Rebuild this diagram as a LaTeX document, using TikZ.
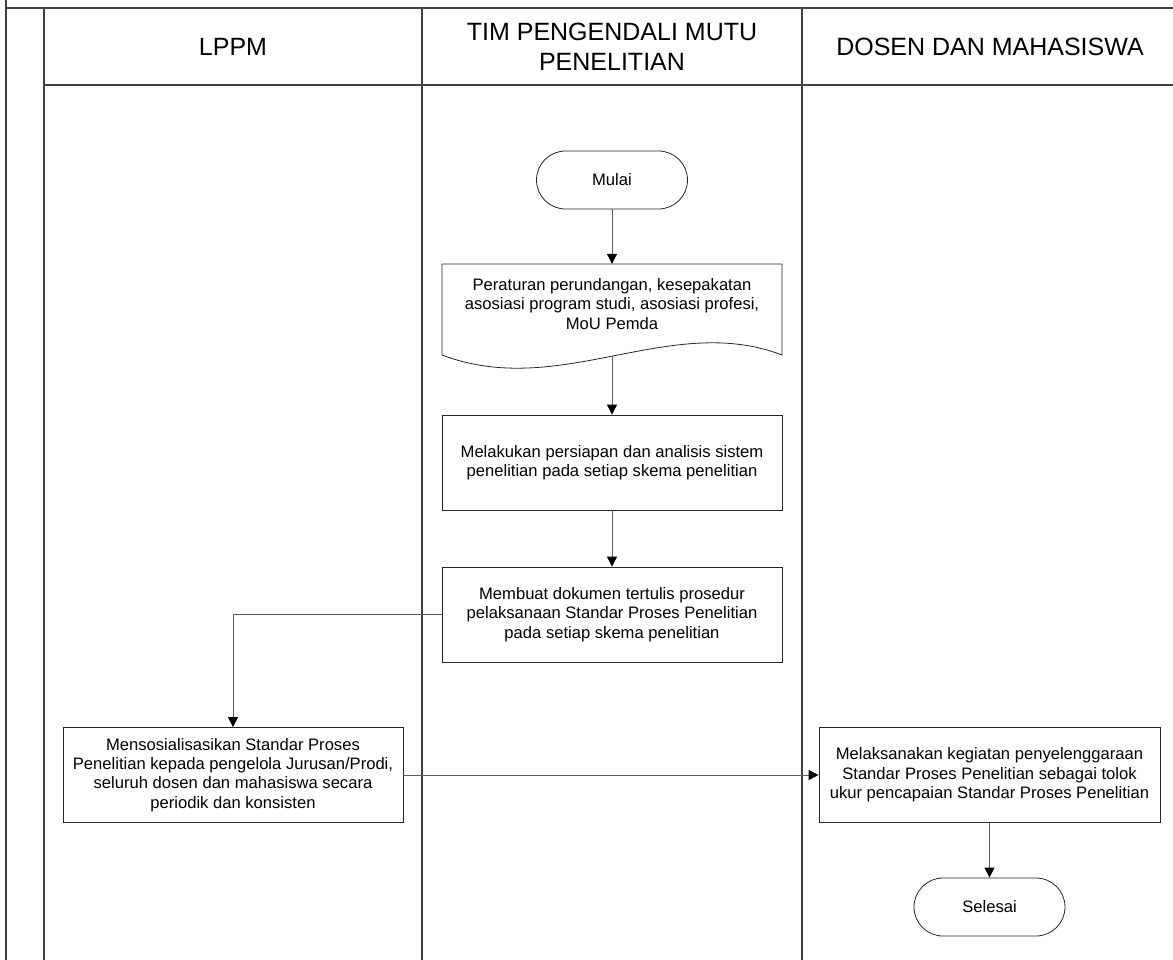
\documentclass[tikz,border=0pt]{standalone}
\usepackage{fontspec}
\setmainfont{Liberation Sans}
\usetikzlibrary{arrows.meta}

\begin{document}
\begin{tikzpicture}[x=1pt, y=-1pt,
    lane/.style={line width=1.6pt, draw=black!75},
    judul/.style={align=center, font=\fontsize{25}{30}\selectfont},
    proses/.style={draw=black!85, line width=0.8pt, minimum width=340pt, minimum height=95pt,
        align=center, font=\fontsize{16.6}{19.3}\selectfont},
    terminal/.style={draw=black!85, line width=0.8pt, rounded corners=29pt,
        minimum width=151pt, minimum height=58pt, font=\fontsize{16.6}{19.3}\selectfont},
    dokumen/.style={minimum width=340pt, minimum height=80pt, inner sep=0pt,
        align=center, font=\fontsize{16.6}{19.3}\selectfont},
    panah/.style={draw=black!65, line width=1pt, -{Triangle[width=10pt,length=10pt,color=black]}}]
    \useasboundingbox (0,0) rectangle (1173,960);

    % kerangka swimlane
    \draw[lane] (6,0) -- (6,960);
    \draw[lane] (6,8) -- (1173,8);
    \draw[lane] (44,9) -- (44,960);
    \draw[lane] (44,85) -- (1173,85);
    \draw[lane] (422,9) -- (422,960);
    \draw[lane] (802,9) -- (802,960);

    % judul kolom
    \node[judul] (h1) at (233,47) {LPPM};
    \node[judul] (h2) at (612,47) {TIM PENGENDALI MUTU\\PENELITIAN};
    \node[judul] (h3) at (990,47) {DOSEN DAN MAHASISWA};

    % langkah-langkah
    \node[terminal] (mulai) at (612,180) {Mulai};
    \node[dokumen] (aturan) at (612,304) {Peraturan perundangan, kesepakatan\\asosiasi program studi, asosiasi profesi,\\MoU Pemda};
    \draw[draw=black!85, line width=0.8pt] (442,264) -- (782,264) -- (782,355)
        .. controls (670,312) and (560,400) .. (442,355) -- cycle;
    \coordinate (aturan-bawah) at (612,356);
    \node[proses] (siap) at (612,462.5) {Melakukan persiapan dan analisis sistem\\penelitian pada setiap skema penelitian};
    \node[proses] (buat) at (612,614.5) {Membuat dokumen tertulis prosedur\\pelaksanaan Standar Proses Penelitian\\pada setiap skema penelitian};
    \node[proses] (sosial) at (233,775) {Mensosialisasikan Standar Proses\\Penelitian kepada pengelola Jurusan/Prodi,\\seluruh dosen dan mahasiswa secara\\periodik dan konsisten};
    \node[proses, minimum width=341pt] (laksana) at (989.5,775) {Melaksanakan kegiatan penyelenggaraan\\Standar Proses Penelitian sebagai tolok\\ukur pencapaian Standar Proses Penelitian};
    \node[terminal] (selesai) at (989.5,907) {Selesai};

    % alur
    \draw[panah] (mulai) -- (aturan.north);
    \draw[panah] (aturan-bawah) -- (siap);
    \draw[panah] (siap) -- (buat);
    \draw[panah] (buat.west) -| (sosial.north);
    \draw[panah] (sosial.east) -- (laksana.west);
    \draw[panah] (laksana.south) -- (selesai.north);
\end{tikzpicture}
\end{document}
